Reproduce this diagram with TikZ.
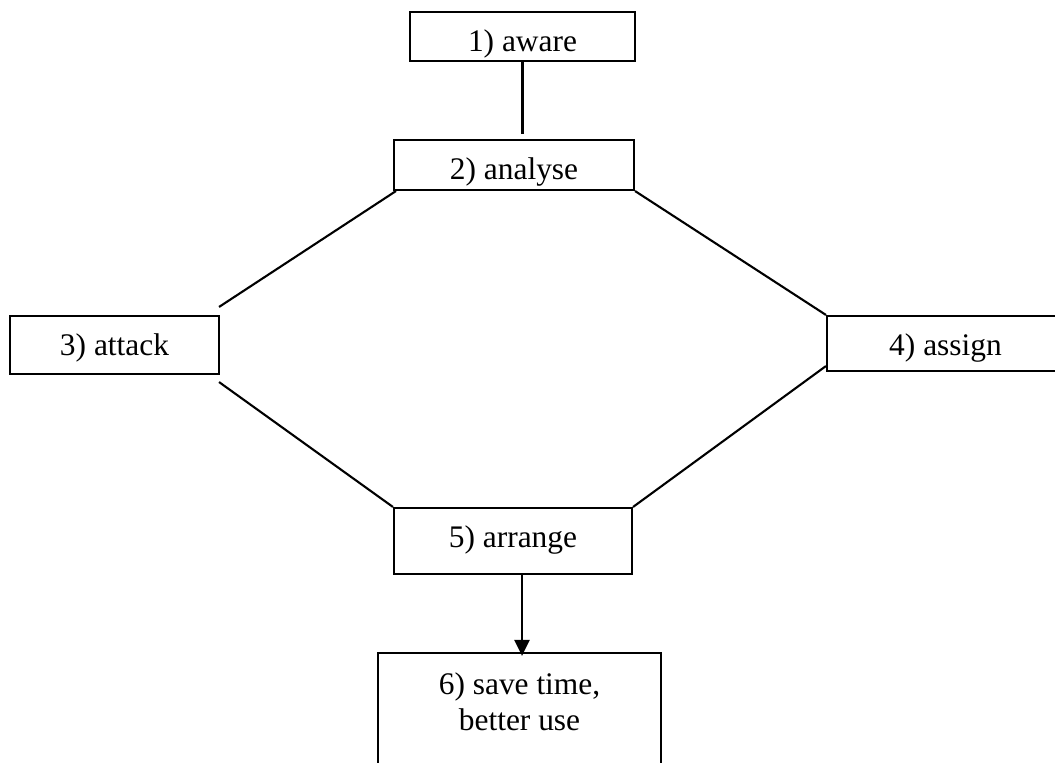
\documentclass[tikz,border=0pt]{standalone}
\usepackage{fontspec}
\setmainfont{Liberation Serif}
\usepackage{tikz}
\usetikzlibrary{arrows.meta, calc, positioning}
\tikzstyle{block} = [rectangle, draw=black, line width=0.8pt, inner xsep=0pt, inner ysep=0pt, text height=14.9pt, text centered]
\tikzstyle{link} = [line width=0.8pt]
\tikzstyle{arrow} = [line width=1pt, -{Triangle[width=5.7pt, length=6.1pt]}]

\begin{document}
\begin{tikzpicture}[x=0.382pt, y=-0.382pt, font=\fontsize{12pt}{14.1pt}\selectfont]
	\useasboundingbox (0,0) rectangle (1055,763);
	\clip (0,0) rectangle (1055,763);
	\node (Aware) [block, minimum width=85.95pt, text depth=3.82pt] at (522.5,36.5) {1) aware};
	\node (Analyse) [block, minimum width=91.68pt, text depth=4.2pt] at (514,165) {2) analyse};
	\node (Attack) [block, minimum width=79.84pt, text depth=7.26pt] at (114.5,345) {3) attack};
	\node (Assign) [block, minimum width=90.53pt, text depth=6.11pt] at (945.5,343.5) {4) assign};
	\node (Arrange) [block, minimum width=90.92pt, text depth=10.31pt] at (513,541) {5) arrange};
	\node (SaveTime) [block, minimum width=108.1pt, text height=29.8pt, text depth=19.9pt, align=center] at (519.5,718) {6) save time,\\better use};
	% connectors
	\draw [link] (Aware.south) -- ($(Aware.south |- Analyse.north)+(0,-5)$);
	\draw [link] ($(Analyse.south west)+(3,0)$) -- ($(Attack.north east)+(-1,-8)$);
	\draw [link] (Analyse.south east) -- (Assign.north west);
	\draw [link] ($(Attack.south east)+(-1,7)$) -- (Arrange.north west);
	\draw [link] ($(Assign.south west)+(0,-6)$) -- (Arrange.north east);
	\draw [arrow] ($(Arrange.south)+(9,0)$) coordinate (ArrowTail) -- ($(ArrowTail |- SaveTime.north)+(0,4)$);
\end{tikzpicture}
\end{document}
